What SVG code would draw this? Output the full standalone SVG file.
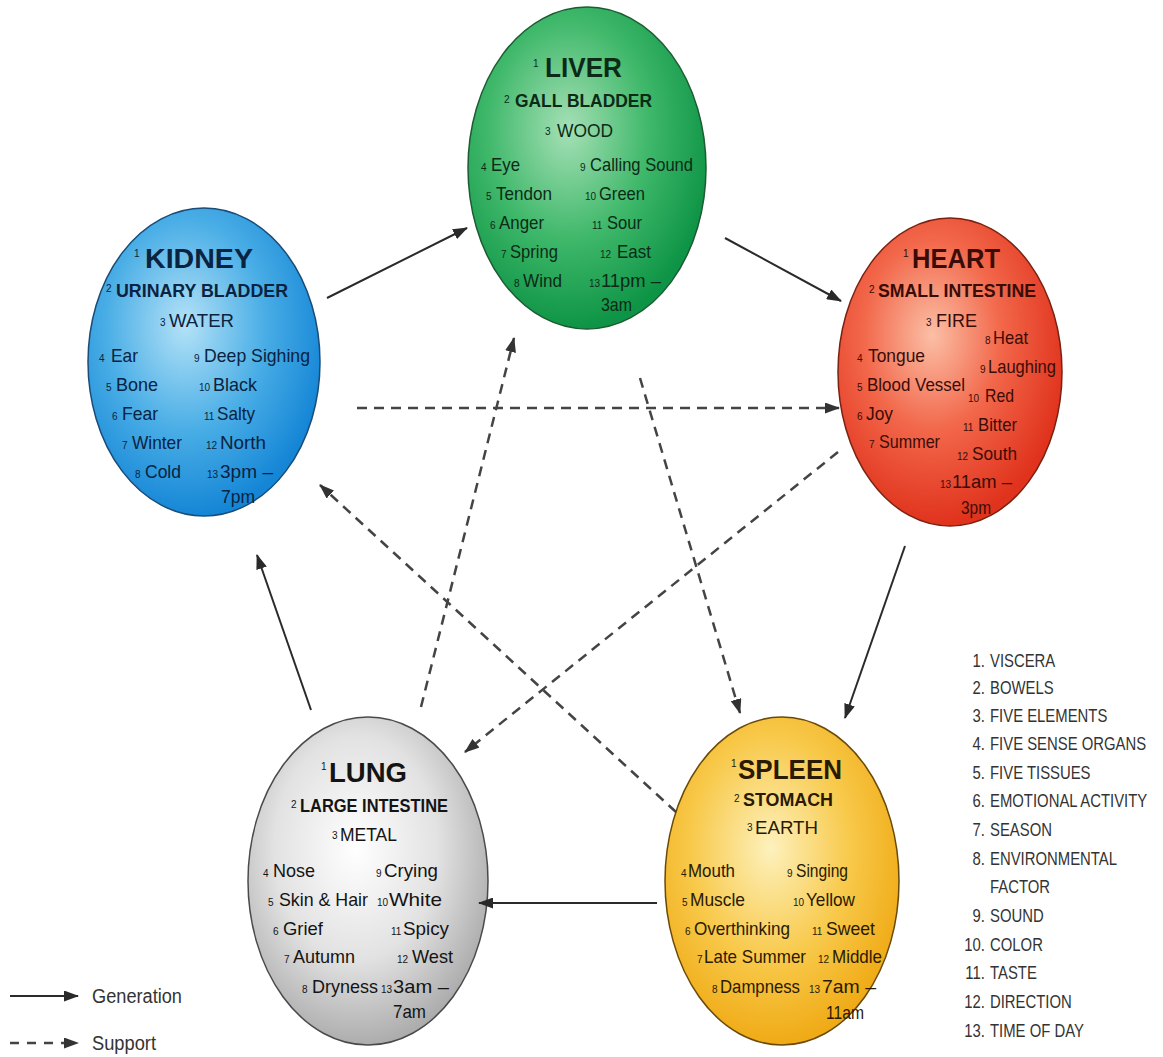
<svg xmlns="http://www.w3.org/2000/svg" width="1163" height="1057" viewBox="0 0 1163 1057">
<defs>
<radialGradient id="gLiver" cx="42%" cy="38%" r="62%"><stop offset="0" stop-color="#a6e0b6"/><stop offset="0.55" stop-color="#3fb86a"/><stop offset="1" stop-color="#0e9446"/></radialGradient>
<radialGradient id="gKidney" cx="42%" cy="38%" r="62%"><stop offset="0" stop-color="#b4e2f7"/><stop offset="0.55" stop-color="#4aaee6"/><stop offset="1" stop-color="#1586d6"/></radialGradient>
<radialGradient id="gHeart" cx="42%" cy="38%" r="62%"><stop offset="0" stop-color="#fbbfa6"/><stop offset="0.5" stop-color="#f2674a"/><stop offset="1" stop-color="#e0321c"/></radialGradient>
<radialGradient id="gLung" cx="45%" cy="40%" r="62%"><stop offset="0" stop-color="#ffffff"/><stop offset="0.55" stop-color="#e2e2e2"/><stop offset="1" stop-color="#a9a9a9"/></radialGradient>
<radialGradient id="gSpleen" cx="45%" cy="40%" r="62%"><stop offset="0" stop-color="#fdf1bd"/><stop offset="0.55" stop-color="#f8c94a"/><stop offset="1" stop-color="#efa812"/></radialGradient>
<marker id="ah" markerUnits="userSpaceOnUse" markerWidth="15" markerHeight="11" viewBox="0 0 15 11" refX="14" refY="5.5" orient="auto"><path d="M0,0 L15,5.5 L0,11 z" fill="#2a2a2a"/></marker>
<marker id="ahd" markerUnits="userSpaceOnUse" markerWidth="15" markerHeight="11" viewBox="0 0 15 11" refX="14" refY="5.5" orient="auto"><path d="M0,0 L15,5.5 L0,11 z" fill="#333"/></marker>
<style>
text{font-family:"Liberation Sans",Arial,sans-serif}
.b{font-weight:bold;font-size:28px}
.s{font-weight:bold;font-size:18px}
.e{font-size:19px}
.t{font-size:19px}
.n{font-size:10px}
.ell{stroke-width:1.5}
.gen{stroke:#2a2a2a;stroke-width:2;fill:none;marker-end:url(#ah)}
.sup{stroke:#444;stroke-width:2.5;fill:none;stroke-dasharray:10 7;marker-end:url(#ahd)}
.leg{font-size:20px;fill:#333}
.lst{font-size:17.5px;fill:#333}
</style>
</defs>
<rect width="1163" height="1057" fill="#ffffff"/>

<g id="liver" fill="#0b2b16">
<ellipse class="ell" cx="587" cy="168" rx="119" ry="161" fill="url(#gLiver)" stroke="#1d5c33"/>
<text class="n" x="533" y="67">1</text><text class="b" x="545" y="77" textLength="77" lengthAdjust="spacingAndGlyphs">LIVER</text>
<text class="n" x="504" y="103">2</text><text class="s" x="515" y="107" textLength="137" lengthAdjust="spacingAndGlyphs">GALL BLADDER</text>
<text class="n" x="545" y="135">3</text><text class="e" x="557" y="137" textLength="56" lengthAdjust="spacingAndGlyphs">WOOD</text>
<text class="n" x="481" y="171">4</text><text class="t" x="491" y="171" textLength="29" lengthAdjust="spacingAndGlyphs">Eye</text>
<text class="n" x="486" y="200">5</text><text class="t" x="496" y="200" textLength="56" lengthAdjust="spacingAndGlyphs">Tendon</text>
<text class="n" x="490" y="229">6</text><text class="t" x="499" y="229" textLength="45" lengthAdjust="spacingAndGlyphs">Anger</text>
<text class="n" x="501" y="258">7</text><text class="t" x="510" y="258" textLength="48" lengthAdjust="spacingAndGlyphs">Spring</text>
<text class="n" x="514" y="287">8</text><text class="t" x="523" y="287" textLength="39" lengthAdjust="spacingAndGlyphs">Wind</text>
<text class="n" x="580" y="171">9</text><text class="t" x="590" y="171" textLength="103" lengthAdjust="spacingAndGlyphs">Calling Sound</text>
<text class="n" x="585" y="200">10</text><text class="t" x="599" y="200" textLength="46" lengthAdjust="spacingAndGlyphs">Green</text>
<text class="n" x="592" y="229">11</text><text class="t" x="607" y="229" textLength="35" lengthAdjust="spacingAndGlyphs">Sour</text>
<text class="n" x="600" y="258">12</text><text class="t" x="617" y="258" textLength="34" lengthAdjust="spacingAndGlyphs">East</text>
<text class="n" x="589" y="287">13</text><text class="t" x="601" y="287" textLength="60" lengthAdjust="spacingAndGlyphs">11pm –</text>
<text class="t" x="601" y="311" textLength="31" lengthAdjust="spacingAndGlyphs">3am</text>
</g>

<g id="kidney" fill="#0a2340">
<ellipse class="ell" cx="204" cy="362" rx="116" ry="154" fill="url(#gKidney)" stroke="#1a4c78"/>
<text class="n" x="134" y="257">1</text><text class="b" x="145" y="268" textLength="108" lengthAdjust="spacingAndGlyphs">KIDNEY</text>
<text class="n" x="106" y="292">2</text><text class="s" x="116" y="297" textLength="172" lengthAdjust="spacingAndGlyphs">URINARY BLADDER</text>
<text class="n" x="160" y="326">3</text><text class="e" x="169" y="327" textLength="65" lengthAdjust="spacingAndGlyphs">WATER</text>
<text class="n" x="99" y="362">4</text><text class="t" x="111" y="362" textLength="27" lengthAdjust="spacingAndGlyphs">Ear</text>
<text class="n" x="106" y="391">5</text><text class="t" x="116" y="391" textLength="42" lengthAdjust="spacingAndGlyphs">Bone</text>
<text class="n" x="112" y="420">6</text><text class="t" x="122" y="420" textLength="36" lengthAdjust="spacingAndGlyphs">Fear</text>
<text class="n" x="122" y="449">7</text><text class="t" x="132" y="449" textLength="50" lengthAdjust="spacingAndGlyphs">Winter</text>
<text class="n" x="135" y="478">8</text><text class="t" x="145" y="478" textLength="36" lengthAdjust="spacingAndGlyphs">Cold</text>
<text class="n" x="194" y="362">9</text><text class="t" x="204" y="362" textLength="106" lengthAdjust="spacingAndGlyphs">Deep Sighing</text>
<text class="n" x="199" y="391">10</text><text class="t" x="213" y="391" textLength="44" lengthAdjust="spacingAndGlyphs">Black</text>
<text class="n" x="204" y="420">11</text><text class="t" x="217" y="420" textLength="38" lengthAdjust="spacingAndGlyphs">Salty</text>
<text class="n" x="206" y="449">12</text><text class="t" x="220" y="449" textLength="46" lengthAdjust="spacingAndGlyphs">North</text>
<text class="n" x="207" y="478">13</text><text class="t" x="220" y="478" textLength="53" lengthAdjust="spacingAndGlyphs">3pm –</text>
<text class="t" x="221" y="503" textLength="34" lengthAdjust="spacingAndGlyphs">7pm</text>
</g>

<g id="heart" fill="#3a0c06">
<ellipse class="ell" cx="950" cy="372" rx="112" ry="154" fill="url(#gHeart)" stroke="#7a2212"/>
<text class="n" x="903" y="257">1</text><text class="b" x="912" y="268" textLength="88" lengthAdjust="spacingAndGlyphs">HEART</text>
<text class="n" x="869" y="293">2</text><text class="s" x="878" y="297" textLength="158" lengthAdjust="spacingAndGlyphs">SMALL INTESTINE</text>
<text class="n" x="926" y="326">3</text><text class="e" x="936" y="327" textLength="41" lengthAdjust="spacingAndGlyphs">FIRE</text>
<text class="n" x="985" y="344">8</text><text class="t" x="993" y="344" textLength="35" lengthAdjust="spacingAndGlyphs">Heat</text>
<text class="n" x="857" y="362">4</text><text class="t" x="868" y="362" textLength="57" lengthAdjust="spacingAndGlyphs">Tongue</text>
<text class="n" x="980" y="373">9</text><text class="t" x="988" y="373" textLength="68" lengthAdjust="spacingAndGlyphs">Laughing</text>
<text class="n" x="857" y="391">5</text><text class="t" x="867" y="391" textLength="98" lengthAdjust="spacingAndGlyphs">Blood Vessel</text>
<text class="n" x="968" y="402">10</text><text class="t" x="985" y="402" textLength="29" lengthAdjust="spacingAndGlyphs">Red</text>
<text class="n" x="857" y="420">6</text><text class="t" x="866" y="420" textLength="27" lengthAdjust="spacingAndGlyphs">Joy</text>
<text class="n" x="963" y="431">11</text><text class="t" x="978" y="431" textLength="39" lengthAdjust="spacingAndGlyphs">Bitter</text>
<text class="n" x="869" y="448">7</text><text class="t" x="879" y="448" textLength="61" lengthAdjust="spacingAndGlyphs">Summer</text>
<text class="n" x="957" y="460">12</text><text class="t" x="972" y="460" textLength="45" lengthAdjust="spacingAndGlyphs">South</text>
<text class="n" x="940" y="488">13</text><text class="t" x="952" y="488" textLength="60" lengthAdjust="spacingAndGlyphs">11am –</text>
<text class="t" x="961" y="514" textLength="30" lengthAdjust="spacingAndGlyphs">3pm</text>
</g>

<g id="lung" fill="#141414">
<ellipse class="ell" cx="368" cy="881" rx="120" ry="164" fill="url(#gLung)" stroke="#4a4a4a"/>
<text class="n" x="321" y="770">1</text><text class="b" x="329" y="782" textLength="78" lengthAdjust="spacingAndGlyphs">LUNG</text>
<text class="n" x="291" y="808">2</text><text class="s" x="300" y="812" textLength="148" lengthAdjust="spacingAndGlyphs">LARGE INTESTINE</text>
<text class="n" x="332" y="839">3</text><text class="e" x="340" y="841" textLength="57" lengthAdjust="spacingAndGlyphs">METAL</text>
<text class="n" x="263" y="877">4</text><text class="t" x="273" y="877" textLength="42" lengthAdjust="spacingAndGlyphs">Nose</text>
<text class="n" x="268" y="906">5</text><text class="t" x="279" y="906" textLength="89" lengthAdjust="spacingAndGlyphs">Skin &amp; Hair</text>
<text class="n" x="273" y="935">6</text><text class="t" x="283" y="935" textLength="40" lengthAdjust="spacingAndGlyphs">Grief</text>
<text class="n" x="284" y="963">7</text><text class="t" x="293" y="963" textLength="62" lengthAdjust="spacingAndGlyphs">Autumn</text>
<text class="n" x="302" y="993">8</text><text class="t" x="312" y="993" textLength="66" lengthAdjust="spacingAndGlyphs">Dryness</text>
<text class="n" x="376" y="877">9</text><text class="t" x="384" y="877" textLength="54" lengthAdjust="spacingAndGlyphs">Crying</text>
<text class="n" x="377" y="906">10</text><text class="t" x="389" y="906" textLength="53" lengthAdjust="spacingAndGlyphs">White</text>
<text class="n" x="391" y="935">11</text><text class="t" x="403" y="935" textLength="46" lengthAdjust="spacingAndGlyphs">Spicy</text>
<text class="n" x="397" y="963">12</text><text class="t" x="412" y="963" textLength="41" lengthAdjust="spacingAndGlyphs">West</text>
<text class="n" x="381" y="993">13</text><text class="t" x="393" y="993" textLength="56" lengthAdjust="spacingAndGlyphs">3am –</text>
<text class="t" x="393" y="1018" textLength="33" lengthAdjust="spacingAndGlyphs">7am</text>
</g>

<g id="spleen" fill="#2a1a02">
<ellipse class="ell" cx="782" cy="881" rx="117" ry="164" fill="url(#gSpleen)" stroke="#6a4a08"/>
<text class="n" x="731" y="767">1</text><text class="b" x="738" y="779" textLength="104" lengthAdjust="spacingAndGlyphs">SPLEEN</text>
<text class="n" x="734" y="802">2</text><text class="s" x="743" y="806" textLength="90" lengthAdjust="spacingAndGlyphs">STOMACH</text>
<text class="n" x="747" y="831">3</text><text class="e" x="755" y="834" textLength="63" lengthAdjust="spacingAndGlyphs">EARTH</text>
<text class="n" x="681" y="877">4</text><text class="t" x="688" y="877" textLength="47" lengthAdjust="spacingAndGlyphs">Mouth</text>
<text class="n" x="682" y="906">5</text><text class="t" x="690" y="906" textLength="55" lengthAdjust="spacingAndGlyphs">Muscle</text>
<text class="n" x="685" y="935">6</text><text class="t" x="694" y="935" textLength="96" lengthAdjust="spacingAndGlyphs">Overthinking</text>
<text class="n" x="697" y="963">7</text><text class="t" x="704" y="963" textLength="102" lengthAdjust="spacingAndGlyphs">Late Summer</text>
<text class="n" x="712" y="993">8</text><text class="t" x="720" y="993" textLength="80" lengthAdjust="spacingAndGlyphs">Dampness</text>
<text class="n" x="787" y="877">9</text><text class="t" x="796" y="877" textLength="52" lengthAdjust="spacingAndGlyphs">Singing</text>
<text class="n" x="793" y="906">10</text><text class="t" x="806" y="906" textLength="49" lengthAdjust="spacingAndGlyphs">Yellow</text>
<text class="n" x="812" y="935">11</text><text class="t" x="826" y="935" textLength="49" lengthAdjust="spacingAndGlyphs">Sweet</text>
<text class="n" x="818" y="963">12</text><text class="t" x="832" y="963" textLength="50" lengthAdjust="spacingAndGlyphs">Middle</text>
<text class="n" x="809" y="993">13</text><text class="t" x="822" y="993" textLength="54" lengthAdjust="spacingAndGlyphs">7am –</text>
<text class="t" x="826" y="1019" textLength="38" lengthAdjust="spacingAndGlyphs">11am</text>
</g>

<g id="connectors">
<path class="gen" d="M327,298 L467,228"/>
<path class="gen" d="M725,238 L841,301"/>
<path class="gen" d="M905,546 L845,718"/>
<path class="gen" d="M657,903 L479,903"/>
<path class="gen" d="M311,710 L257,555"/>
<path class="sup" d="M357,408 L839,408"/>
<path class="sup" d="M421,707 L514,338"/>
<path class="sup" d="M640,378 L740,713"/>
<path class="sup" d="M838,452 L465,752"/>
<path class="sup" d="M676,812 L320,485"/>
</g>

<g id="legend">
<path class="gen" d="M10,996 L78,996"/>
<text class="leg" x="92" y="1003" textLength="90" lengthAdjust="spacingAndGlyphs">Generation</text>
<path class="sup" d="M10,1043 L78,1043" style="stroke-dasharray:9 8"/>
<text class="leg" x="92" y="1050" textLength="64" lengthAdjust="spacingAndGlyphs">Support</text>
</g>

<g id="key" transform="translate(990 0) scale(0.85 1)">
<g class="lst" text-anchor="end">
<text class="lst" x="-6" y="667">1.</text>
<text class="lst" x="-6" y="694">2.</text>
<text class="lst" x="-6" y="722">3.</text>
<text class="lst" x="-6" y="750">4.</text>
<text class="lst" x="-6" y="779">5.</text>
<text class="lst" x="-6" y="807">6.</text>
<text class="lst" x="-6" y="836">7.</text>
<text class="lst" x="-6" y="865">8.</text>
<text class="lst" x="-6" y="922">9.</text>
<text class="lst" x="-6" y="951">10.</text>
<text class="lst" x="-6" y="979">11.</text>
<text class="lst" x="-6" y="1008">12.</text>
<text class="lst" x="-6" y="1037">13.</text>
</g>
<text class="lst" x="0" y="667">VISCERA</text>
<text class="lst" x="0" y="694">BOWELS</text>
<text class="lst" x="0" y="722">FIVE ELEMENTS</text>
<text class="lst" x="0" y="750">FIVE SENSE ORGANS</text>
<text class="lst" x="0" y="779">FIVE TISSUES</text>
<text class="lst" x="0" y="807">EMOTIONAL ACTIVITY</text>
<text class="lst" x="0" y="836">SEASON</text>
<text class="lst" x="0" y="865">ENVIRONMENTAL</text>
<text class="lst" x="0" y="893">FACTOR</text>
<text class="lst" x="0" y="922">SOUND</text>
<text class="lst" x="0" y="951">COLOR</text>
<text class="lst" x="0" y="979">TASTE</text>
<text class="lst" x="0" y="1008">DIRECTION</text>
<text class="lst" x="0" y="1037">TIME OF DAY</text>
</g>
</svg>
